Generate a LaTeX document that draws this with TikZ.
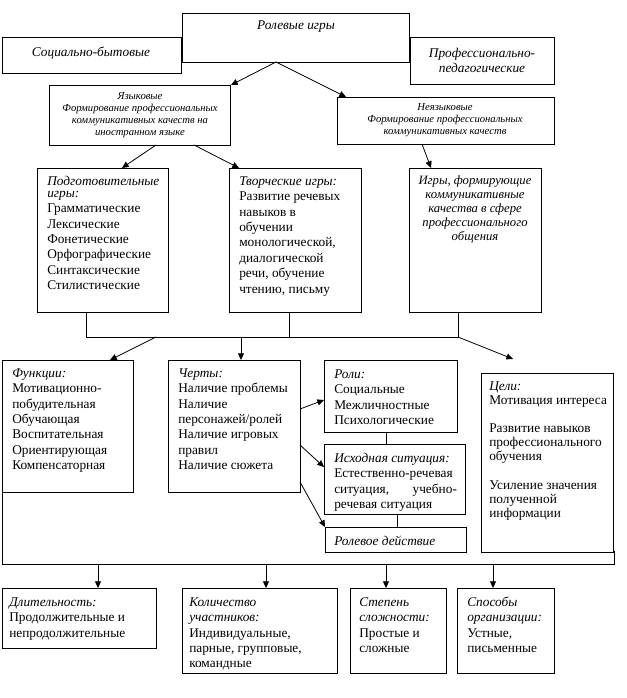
\documentclass[tikz,border=0pt]{standalone}
\usepackage{fontspec}
\setmainfont{Liberation Serif}
\usetikzlibrary{arrows.meta,calc}
\newcommand\bx[5]{\node[box, minimum width={(#4-#2)*0.75pt}, minimum height={(#5-#3)*0.75pt}, anchor=north west] (#1) at (#2,#3) {};}
\begin{document}
\begin{tikzpicture}[x=0.75pt,y=-0.75pt,
  box/.style={draw,line width=0.7pt,inner sep=0pt,outer sep=0pt},
  arr/.style={line width=0.6pt,-{Triangle[length=5pt,width=4.5pt]}},
  ln/.style={line width=0.6pt},
  up/.style={font=\fontsize{10}{11.6}\selectfont, inner sep=0pt, align=left, anchor=north west},
  itx/.style={font=\fontsize{10}{11.25}\selectfont\itshape, inner sep=0pt},
  smit/.style={font=\fontsize{8}{9}\selectfont\itshape, inner sep=0pt, align=center},
  midit/.style={font=\fontsize{9.5}{10.6}\selectfont\itshape, inner sep=0pt, align=center, anchor=north}]
\useasboundingbox[fill=white] (0,0) rectangle (626,698);
% boxes
\bx{top}{182}{13}{409}{62}
\bx{soc}{2}{37}{181}{73}
\bx{prof}{410}{37}{554}{84}
\bx{yaz}{49}{85}{230}{145}
\bx{neyaz}{337}{97}{554}{144}
\bx{podg}{37}{168}{168}{312}
\bx{tvor}{229}{168}{361}{312}
\bx{igry}{409}{168}{541}{312}
\bx{func}{2}{360}{133}{492}
\bx{cherty}{168}{360}{300}{492}
\bx{roli}{324}{360}{457}{432}
\bx{ish}{324}{444}{465}{514}
\bx{rolev}{325}{527}{466}{552}
\bx{celi}{481}{373}{613}{552}
\bx{dlit}{2}{588}{156}{648}
\bx{kol}{182}{588}{337}{673}
\bx{stp}{350}{588}{446}{673}
\bx{spos}{457}{588}{554}{673}
% texts
\node[itx] (topT) at (296,27) {Ролевые игры};
\node[itx] (socT) at (91,53) {Социально-бытовые};
\node[itx, align=center] (profT) at (482,60) {Профессионально-\\педагогические};
\node[smit] (yazT) at (140,115) {Языковые\\Формирование профессиональных\\коммуникативных качеств на\\иностранном языке};
\node[smit] (neyazT) at (445,120) {Неязыковые\\Формирование профессиональных\\коммуникативных качеств};
\node[up] (podgT) at (47,174) {\strut\textit{Подготовительные}\\[-2.6pt]\textit{игры:}\\Грамматические\\Лексические\\Фонетические\\Орфографические\\Синтаксические\\Стилистические};
\node[up] (tvorT) at (239,174) {\strut\textit{Творческие игры:}\\Развитие речевых\\навыков в\\обучении\\монологической,\\диалогической\\речи, обучение\\чтению, письму};
\node[midit] (igryT) at (475,174) {\strut Игры, формирующие\\коммуникативные\\качества в сфере\\профессионального\\общения};
\node[up] (funcT) at (12,366) {\strut\textit{Функции:}\\Мотивационно-\\побудительная\\Обучающая\\Воспитательная\\Ориентирующая\\Компенсаторная};
\node[up] (chertyT) at (178,366) {\strut\textit{Черты:}\\Наличие проблемы\\Наличие\\персонажей/ролей\\Наличие игровых\\правил\\Наличие сюжета};
\node[up] (roliT) at (334,367) {\strut\textit{Роли:}\\Социальные\\Межличностные\\Психологические};
\node[up] (ishT) at (334,451) {\strut\textit{Исходная ситуация:}\\Естественно-речевая\\\makebox[92pt][s]{ситуация, учебно-}\\речевая ситуация};
\node[itx, anchor=west] (rolevT) at (334,541) {Ролевое действие};
\node[up, font=\fontsize{10}{10.5}\selectfont] (celiT) at (489,380) {\strut\textit{Цели:}\\Мотивация интереса\\[10.9pt]Развитие навыков\\профессионального\\обучения\\[10.9pt]Усиление значения\\полученной\\информации};
\node[up] (dlitT) at (9,595) {\strut\textit{Длительность:}\\Продолжительные и\\непродолжительные};
\node[up] (kolT) at (189,595) {\strut\textit{Количество}\\\textit{участников:}\\Индивидуальные,\\парные, групповые,\\командные};
\node[up] (stpT) at (359,595) {\strut\textit{Степень}\\\textit{сложности:}\\Простые и\\сложные};
\node[up] (sposT) at (467,595) {\strut\textit{Способы}\\\textit{организации:}\\Устные,\\письменные};
% connectors top
\draw[arr] (top.south -| 276,0) -- (yaz.north -| 231,0);
\draw[arr] (top.south -| 276,0) -- (neyaz.north -| 346,0);
\draw[arr] (yaz.south -| 156,0) -- (podg.north -| 122,0);
\draw[arr] (yaz.south -| 194,0) -- (tvor.north -| 239,0);
\draw[arr] (neyaz.south -| 422,0) -- (igry.north -| 431,0);
% bus 1
\coordinate (b1L) at (86,337);
\coordinate (b1M) at (289,337);
\coordinate (b1R) at (458,337);
\coordinate (b1a) at (156,337);
\coordinate (b1b) at (241,337);
\coordinate (celiTip) at (513,359);
\draw[ln] (podg.south -| b1L) -- (b1L) -- (b1R) -- (igry.south -| b1R);
\draw[ln] (tvor.south -| b1M) -- (b1M);
\draw[arr] (b1a) -- (func.north -| 110,0);
\draw[arr] (b1b) -- (cherty.north -| b1b);
\draw[arr] (b1R) -- (celiTip);
% features
\draw[arr] (cherty.east |- 0,409) -- (roli.west |- 0,400);
\draw[arr] (cherty.east |- 0,445) -- (ish.west |- 0,467);
\draw[arr] (cherty.east |- 0,482) -- (rolev.north west);
\draw[ln] (roli.south -| 386,0) -- (ish.north -| 386,0);
\draw[ln] (ish.south -| 397,0) -- (rolev.north -| 397,0);
% bus 2
\coordinate (b2L) at (2,564);
\coordinate (b2R) at (614,564);
\coordinate (stub) at (614,551);
\draw[ln] (func.south west) -- (b2L) -- (b2R) -- (stub);
\draw[arr] (b2L -| 98,0) -- (dlit.north -| 98,0);
\draw[arr] (b2L -| 266,0) -- (kol.north -| 266,0);
\draw[arr] (b2L -| 386,0) -- (stp.north -| 386,0);
\draw[arr] (b2L -| 493,0) -- (spos.north -| 493,0);
\end{tikzpicture}
\end{document}
